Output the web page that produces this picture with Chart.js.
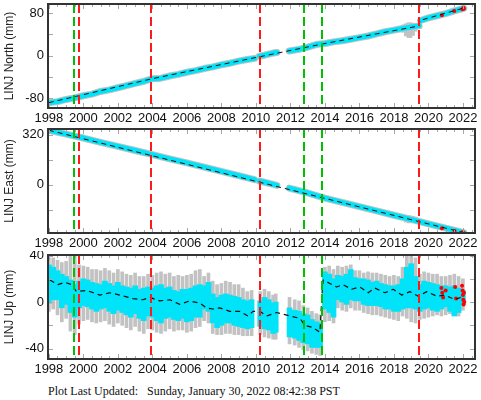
<!DOCTYPE html>
<html lang="en">
<head>
    <meta charset="UTF-8">
    <title>LINJ GPS Time Series</title>
    <script src="https://cdn.jsdelivr.net/npm/chart.js"></script>
    <style>
        body {
            margin: 0;
            background: #fff;
            width: 481px;
            height: 400px;
            overflow: hidden;
            position: relative;
            font-family: "Liberation Sans", Arial, sans-serif;
        }

        .panel {
            position: absolute;
            left: 0;
            width: 481px;
            height: 125px;
        }

        #footer {
            position: absolute;
            left: 48px;
            top: 384px;
            font-family: "Liberation Serif", "Times New Roman", serif;
            font-size: 12px;
            color: #111;
            white-space: pre;
        }
    </style>
</head>
<body>
    <div class="panel" style="top:0px"><canvas id="northChart"></canvas></div>
    <div class="panel" style="top:125px"><canvas id="eastChart"></canvas></div>
    <div class="panel" style="top:251px"><canvas id="upChart"></canvas></div>
    <div id="footer">Plot Last Updated:   Sunday, January 30, 2022 08:42:38 PST</div>

    <script>
        // ---- shared axis / events ----
        const xTickYears = [1998, 2000, 2002, 2004, 2006, 2008, 2010, 2012, 2014, 2016, 2018, 2020, 2022];
        const redEvents = [1999.74, 2003.92, 2010.23, 2019.48];
        const greenEvents = [1999.47, 2012.8, 2013.83];

        // ---- North ----
        const northT = [1998.0, 1998.5, 1999.0, 1999.5, 2000.0, 2000.5, 2001.0, 2001.5, 2002.0, 2002.5, 2003.0, 2003.5,
            2004.0, 2004.5, 2005.0, 2005.5, 2006.0, 2006.5, 2007.0, 2007.5, 2008.0, 2008.5, 2009.0, 2009.5, 2009.92,
            2010.05, 2010.2, 2010.5, 2011.0, 2011.22, 2011.5, 2011.93, 2012.5, 2013.0, 2013.5, 2014.0, 2014.5, 2015.0,
            2015.5, 2016.0, 2016.5, 2017.0, 2017.5, 2018.0, 2018.5, 2019.0, 2019.46, 2019.5, 2019.54, 2020.0, 2020.5,
            2021.0, 2021.5, 2022.05];
        const northV = [-88, -86, -82, -79, -75, -72, -67, -64, -60, -56, -52, -48,
            -43, -42, -38, -35, -31, -28, -24, -21, -17, -14, -10, -7, -5,
            null, -1, 1, 5, 6, null, 9, 12, 16, 21, 23, 26, 28,
            31, 34, 37, 41, 45, 48, 51, 54, 56, null, 66, 71, 75,
            79, 84, 89];
        const northModelT = [1998, 2004, 2010.2, 2013.85, 2019.48, 2019.5, 2022.1];
        const northModelV = [-88, -43, -2, 22, 56, 66, 90];
        const northBlobT = [2018.6, 2018.75, 2018.9, 2019.05, 2019.2];
        const northBlobLo = [44, 37, 34, 38, 46];
        const northBlobHi = [58, 60, 62, 61, 60];
        const northRedT = [2020.78, 2021.5, 2021.97, 2022.03, 2022.06];
        const northRedV = [76, 84, 87, 90, 88];
        const northLabels = [-80, 0, 80];
        const northMinor = [-80, -40, 0, 40, 80];

        // ---- East ----
        const eastT = [1998.0, 1999.0, 2000.0, 2001.0, 2002.0, 2003.0, 2004.0, 2005.0, 2006.0, 2007.0, 2008.0, 2009.0,
            2009.92, 2010.05, 2010.2, 2011.0, 2011.22, 2011.5, 2011.93, 2013.0, 2014.0, 2015.0, 2016.0, 2017.0, 2018.0,
            2019.0, 2020.0, 2021.0, 2022.05];
        const eastV = [350, 325, 300, 272, 246, 220, 193, 166, 140, 113, 86, 58,
            33, null, 24, 2, -4, null, -22, -53, -86, -113, -141, -168, -196,
            -223, -251, -279, -308];
        const eastModelT = [1998, 2022.1];
        const eastModelV = [350, -309];
        const eastBlobT = [2018.6, 2018.75, 2018.9, 2019.05, 2019.2];
        const eastBlobLo = [-222, -240, -245, -238, -228];
        const eastBlobHi = [-196, -198, -200, -203, -208];
        const eastRedT = [2020.78, 2021.52, 2021.97, 2022.03];
        const eastRedV = [-280, -297, -305, -309];
        const eastLabels = [0, 320];
        const eastMinor = [-160, 0, 160, 320];

        // ---- Up ----
        const upT = [1998.0, 1998.25, 1998.5, 1998.75, 1999.0, 1999.25, 1999.5, 1999.75, 2000.0, 2000.25, 2000.5, 2000.75,
            2001.0, 2001.25, 2001.5, 2001.75, 2002.0, 2002.25, 2002.5, 2002.75, 2003.0, 2003.25, 2003.5, 2003.75,
            2004.0, 2004.25, 2004.5, 2004.75, 2005.0, 2005.25, 2005.5, 2005.75, 2006.0, 2006.25, 2006.5, 2006.75,
            2007.0, 2007.25, 2007.5, 2007.75, 2008.0, 2008.25, 2008.5, 2008.75, 2009.0, 2009.25, 2009.5, 2009.75,
            2010.25, 2010.5, 2010.75, 2011.0, 2011.15,
            2011.95, 2012.25, 2012.5, 2012.75, 2013.0, 2013.25, 2013.5, 2013.72,
            2014.0, 2014.25, 2014.5, 2014.75, 2015.0, 2015.25, 2015.5, 2015.75, 2016.0, 2016.25, 2016.5, 2016.75,
            2017.0, 2017.25, 2017.5, 2017.75, 2018.0, 2018.25, 2018.5, 2018.75, 2019.0, 2019.25, 2019.5, 2019.75,
            2020.0, 2020.25, 2020.5, 2020.75, 2021.0, 2021.25, 2021.5, 2021.75, 2022.0];
        const upCyanLo = [-1, 2, 2, -5, -2, -9, -13, -5, -3, -4, -6, -8,
            -6, -5, -8, -10, -7, -9, -11, -13, -10, -14, -16, -12,
            -13, -16, -18, -14, -13, -15, -16, -14, -17, -16, -13, -13,
            -6, -8, -18, -22, -20, -18, -18, -20, -21, -22, -23, -22,
            -21, -23, -24, -27, -26,
            -30, -31, -33, -35, -36, -39, -39, -39,
            -6, -9, -13, 2, 0, -2, 2, 1, 1, -2, -3, -3,
            -3, -4, -6, -6, -8, -8, -6, -5, -5, -6, -8, -6,
            -5, -7, -8, -6, -4, -8, -12, -9, -2];
        const upCyanHi = [32, 30, 27, 24, 22, 19, 15, 18, 20, 19, 17, 16,
            15, 18, 16, 14, 17, 14, 13, 12, 14, 11, 12, 13,
            12, 14, 15, 12, 13, 10, 9, 11, 11, 12, 14, 15,
            14, 17, 7, 4, 6, 7, 6, 5, 4, 2, 1, 2,
            1, 4, 2, -1, 0,
            -5, -7, -8, -10, -11, -15, -17, -18,
            26, 24, 20, 23, 22, 24, 28, 21, 20, 20, 19, 17,
            18, 16, 15, 14, 14, 15, 20, 30, 33, 22, 15, 18,
            17, 16, 15, 14, 14, 13, 14, 12, 10];
        const upGrayLo = [-8, -6, -11, -17, -14, -25, -28, -19, -16, -15, -17, -18,
            -17, -16, -19, -21, -18, -20, -22, -24, -21, -25, -27, -23,
            -24, -26, -27, -25, -23, -25, -24, -24, -26, -25, -22, -21,
            -16, -18, -27, -28, -28, -27, -27, -28, -28, -29, -29, -29,
            -28, -30, -31, -32, -32,
            -36, -37, -39, -41, -42, -44, -45, -46,
            -17, -16, -18, -5, -7, -8, -5, -7, -7, -9, -10, -11,
            -11, -12, -13, -14, -15, -16, -12, -14, -17, -18, -15, -14,
            -13, -12, -11, -12, -11, -10, -11, -12, -7];
        const upGrayHi = [38, 38, 36, 34, 35, 40, 40, 32, 31, 30, 28, 28,
            27, 29, 27, 25, 28, 26, 24, 23, 25, 22, 22, 24,
            23, 25, 26, 24, 25, 22, 23, 22, 23, 24, 27, 28,
            22, 25, 18, 15, 16, 18, 17, 15, 15, 12, 9, 10,
            9, 11, 9, 6, 7,
            4, 2, 1, -3, -5, -8, -10, -11,
            30, 31, 28, 31, 30, 31, 32, 27, 27, 25, 26, 25,
            25, 24, 23, 22, 23, 22, 30, 40, 40, 38, 24, 26,
            25, 24, 24, 22, 22, 23, 24, 22, 20];
        const upModelT = [1998.06, 1998.52, 1998.93, 1999.32, 1999.6, 2000.19, 2000.96, 2001.54, 2002.12, 2002.87,
            2003.45, 2003.86, 2004.43, 2005.01, 2005.59, 2006.17, 2006.75, 2007.14, 2007.5, 2007.91,
            2008.49, 2009.07, 2009.54, 2009.83, 2010.23, 2010.62, 2011.2, 2011.97, 2012.55, 2012.84,
            2013.32, 2013.71, 2013.84, 2013.9, 2014.29, 2014.68, 2015.04, 2015.55, 2016.03, 2016.51,
            2016.9, 2017.48, 2017.96, 2018.45, 2018.93, 2019.41, 2019.9, 2020.48, 2020.96, 2021.54, 2022.02];
        const upModelV = [19, 15, 17, 15, 9, 10, 6, 8, 6, 3,
            2, 4, 1, 2, -2, 1, -1, -5, -6, -5,
            -8, -8, -12, -8, -8, -12, -9, -12, -14, -20,
            -22, -26, 9, 19, 16, 13, 15, 11, 13, 8,
            12, 8, 11, 6, 9, 5, 9, 5, 6, 2, 5];
        const upRedT = [2020.75, 2020.8, 2020.85, 2021.0, 2021.55, 2021.6, 2021.95, 2021.98, 2022.0, 2022.02, 2022.04, 2022.06, 2022.08];
        const upRedV = [12, 8, 4, 10, 13, 3, 14, 10, 6, 2, -2, 8, 0];
        const upLabels = [-40, 0, 40];
        const upMinor = [-40, -20, 0, 20, 40];

        const CYAN = '#00e3f8';
        const GRAY = '#c2c2c2';
        const FONT = '"Liberation Sans", Arial, sans-serif';

        function pts(ts, vs) {
            return ts.map((t, i) => ({ x: t, y: vs[i] }));
        }

        function ranges(ts, lo, hi) {
            return ts.map((t, i) => ({ x: t, y: [lo[i], hi[i]] }));
        }

        function lineSet(data, color, width, order, dash) {
            return {
                type: 'line', data: data, borderColor: color, borderWidth: width, pointRadius: 0,
                spanGaps: false, tension: 0, fill: false, order: order, borderDash: dash || [],
                borderCapStyle: dash ? 'butt' : 'round', borderJoinStyle: 'round'
            };
        }

        function barSet(data, color, order, thickness) {
            return { type: 'bar', data: data, backgroundColor: color, barThickness: thickness || 5, grouped: false, borderWidth: 0, order: order };
        }

        function redSet(data) {
            return { type: 'line', data: data, showLine: false, pointRadius: 2, pointBackgroundColor: '#ff0000', pointBorderWidth: 0, order: 1 };
        }

        // dashed event lines, inward ticks and frame
        const panelDecor = {
            id: 'panelDecor',
            afterDatasetsDraw(chart) {
                const { ctx, chartArea: a } = chart;
                const xs = chart.scales.x, ys = chart.scales.y;
                const yMinor = chart.options.plugins.panelDecor.yMinor;
                ctx.save();
                ctx.lineWidth = 2;
                ctx.setLineDash([9, 4]);
                [[greenEvents, '#00c000'], [redEvents, '#ff1a1a']].forEach(([list, color]) => {
                    ctx.strokeStyle = color;
                    list.forEach(t => {
                        const px = Math.round(xs.getPixelForValue(t));
                        ctx.beginPath();
                        ctx.moveTo(px, a.top);
                        ctx.lineTo(px, a.bottom);
                        ctx.stroke();
                    });
                });
                ctx.setLineDash([]);

                ctx.strokeStyle = '#a8a8a8';
                ctx.lineWidth = 1;
                xTickYears.forEach(year => {
                    [0, 0.5, 1, 1.5].forEach(d => {
                        const t = year + d;
                        if (t > xs.max) return;
                        const px = Math.round(xs.getPixelForValue(t)) + 0.5;
                        const len = d === 0 ? 5 : 3;
                        ctx.beginPath();
                        ctx.moveTo(px, a.top); ctx.lineTo(px, a.top + len);
                        ctx.moveTo(px, a.bottom); ctx.lineTo(px, a.bottom - len);
                        ctx.stroke();
                    });
                });
                yMinor.forEach(v => {
                    const py = Math.round(ys.getPixelForValue(v)) + 0.5;
                    ctx.beginPath();
                    ctx.moveTo(a.left, py); ctx.lineTo(a.left + 5, py);
                    ctx.moveTo(a.right, py); ctx.lineTo(a.right - 5, py);
                    ctx.stroke();
                });

                ctx.strokeStyle = '#333';
                ctx.lineWidth = 2;
                ctx.strokeRect(a.left, a.top, a.right - a.left, a.bottom - a.top);
                ctx.restore();
            }
        };

        function makePanel(id, cfg) {
            return new Chart(document.getElementById(id), {
                type: 'line',
                data: { datasets: cfg.datasets },
                options: {
                    responsive: true,
                    maintainAspectRatio: false,
                    animation: false,
                    layout: { padding: { top: 2, right: 6, left: 0, bottom: 0 } },
                    plugins: {
                        legend: { display: false },
                        tooltip: { enabled: false },
                        panelDecor: { yMinor: cfg.yMinor }
                    },
                    scales: {
                        x: {
                            type: 'linear', min: 1997.95, max: 2022.7, offset: false,
                            grid: { display: false, drawTicks: false },
                            border: { display: false },
                            ticks: { font: { family: FONT, size: 13 }, color: '#111', padding: 3, maxRotation: 0, autoSkip: false, callback: v => String(v) },
                            afterBuildTicks: s => { s.ticks = xTickYears.map(v => ({ value: v })); },
                            afterFit: s => { s.height = 17; s.paddingLeft = 0; s.paddingRight = 0; }
                        },
                        y: {
                            type: 'linear', min: cfg.yMin, max: cfg.yMax,
                            grid: { display: false, drawTicks: false },
                            border: { display: false },
                            ticks: { font: { family: FONT, size: 13 }, color: '#111', padding: 4, callback: v => String(v) },
                            afterBuildTicks: s => { s.ticks = cfg.yLabels.map(v => ({ value: v })); },
                            title: { display: true, text: cfg.title, font: { family: FONT, size: 12 }, color: '#222', padding: { top: 2, bottom: 0 } },
                            afterFit: s => { s.width = 48; s.paddingTop = 0; s.paddingBottom = 0; }
                        }
                    }
                },
                plugins: [panelDecor]
            });
        }

        makePanel('northChart', {
            title: 'LINJ North (mm)', yMin: -98, yMax: 97, yLabels: northLabels, yMinor: northMinor,
            datasets: [
                lineSet(pts(northModelT, northModelV), '#111', 1, 0, [5, 4]),
                redSet(pts(northRedT, northRedV)),
                lineSet(pts(northT, northV), CYAN, 5, 2),
                lineSet(pts(northT, northV), GRAY, 7, 3),
                barSet(ranges(northBlobT, northBlobLo, northBlobHi), GRAY, 4)
            ]
        });

        makePanel('eastChart', {
            title: 'LINJ East (mm)', yMin: -310, yMax: 358, yLabels: eastLabels, yMinor: eastMinor,
            datasets: [
                lineSet(pts(eastModelT, eastModelV), '#111', 1, 0, [5, 4]),
                redSet(pts(eastRedT, eastRedV)),
                lineSet(pts(eastT, eastV), CYAN, 5, 2),
                lineSet(pts(eastT, eastV), GRAY, 7, 3),
                barSet(ranges(eastBlobT, eastBlobLo, eastBlobHi), GRAY, 4)
            ]
        });

        makePanel('upChart', {
            title: 'LINJ Up (mm)', yMin: -49, yMax: 40.5, yLabels: upLabels, yMinor: upMinor,
            datasets: [
                lineSet(pts(upModelT, upModelV), '#111', 1.2, 0, [5, 4]),
                redSet(pts(upRedT, upRedV)),
                barSet(ranges(upT, upCyanLo, upCyanHi), CYAN, 2, 5),
                barSet(ranges(upT, upGrayLo, upGrayHi), GRAY, 3, 3)
            ]
        });
    </script>
</body>
</html>
